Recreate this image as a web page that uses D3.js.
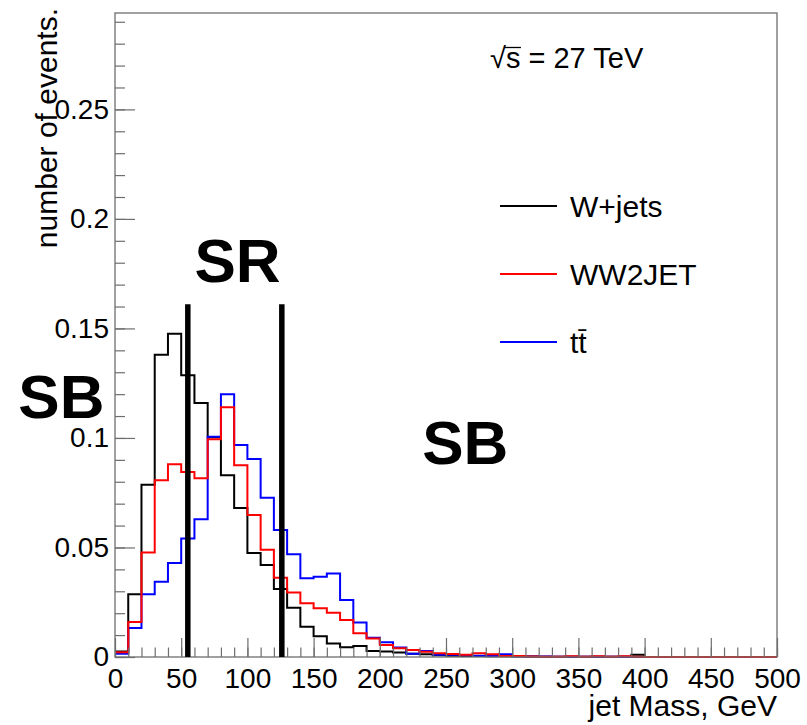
<!DOCTYPE html>
<html>
<head>
<meta charset="utf-8">
<script src="https://cdn.jsdelivr.net/npm/d3@7"></script>
<style>
  html, body { margin: 0; padding: 0; background: #fff; }
  svg { display: block; font-family: "Liberation Sans", Arial, Helvetica, sans-serif; }
</style>
</head>
<body>
<svg id="chart" width="807" height="725"></svg>
<script>
// ---- data (10 GeV bins, 0..500 GeV) ----
const binEdgesStart = 0;
const binWidth = 10;
const wjets = [0.0025,0.0287,0.0786,0.138,0.1476,0.1286,0.116,0.1003,0.083,0.068,
               0.0475,0.042,0.031,0.0225,0.0138,0.0095,0.0062,0.0045,0.005,0.0027,
               0.0025,0.002,0.0015,0.0012,0.0008,0.0006,0.0004,0.0004,0.0003,0.0003,
               0.0002,0.0002,0.0001,0.0001,0.0001,0.0001,0.0001,0.0001,0.0001,0.001,
               0,0,0,0,0,0,0,0,0,0];
const ww2jet = [0.0022,0.016,0.0477,0.0807,0.088,0.0845,0.0816,0.0994,0.114,0.0875,
                0.0648,0.049,0.0362,0.0295,0.0245,0.0222,0.0202,0.0169,0.0108,0.0085,
                0.0055,0.004,0.0032,0.0024,0.0017,0.0014,0.001,0.0017,0.0012,0.0005,
                0.0004,0.0002,0.0001,0.0001,0.0003,0.0001,0.0003,0.0001,0.0003,0.0001,
                0,0,0,0,0,0,0,0,0,0];
const ttbar = [0.0015,0.0132,0.0286,0.0343,0.0429,0.0541,0.0629,0.1005,0.12,0.0968,
               0.0904,0.0727,0.058,0.0469,0.0359,0.0366,0.0381,0.026,0.0158,0.0088,
               0.0067,0.0043,0.0015,0.0027,0.001,0.001,0.0008,0.0006,0.0004,0.0013,
               0.0003,0.0002,0.0002,0.0001,0.0001,0.0001,0.0001,0.0001,0.0001,0,
               0,0,0,0,0,0,0,0,0,0];
const seriesNames = ["W+jets", "WW2JET", "tt̄"];
const seriesColors = ["#000000", "#ff0000", "#0000ff"];
const xMajorTicks = [0,50,100,150,200,250,300,350,400,450,500];
const yMajorTicks = [0,0.05,0.1,0.15,0.2,0.25];
const yTickLabels = ["0","0.05","0.1","0.15","0.2","0.25"];
const cutValues = [55, 126];   // SR boundaries, GeV
const cutTop = 0.161;
const regionLabels = [
  {text: "SB", x: -73, y: 0.109},
  {text: "SR", x: 60,  y: 0.171},
  {text: "SB", x: 232, y: 0.088}
];

// ---- layout ----
const svg = d3.select("#chart");
const L = 115, R = 777, T = 13, B = 657;
const x = d3.scaleLinear().domain([0, 500]).range([L, R]);
const y = d3.scaleLinear().domain([0, 0.294]).range([B, T]);
const axisColor = "#6e6e6e";

// histograms
function stepPoints(vals) {
  const pts = vals.map((v, i) => [binEdgesStart + i * binWidth, v]);
  pts.push([binEdgesStart + vals.length * binWidth, vals[vals.length - 1]]);
  return pts;
}
const line = d3.line().x(d => x(d[0])).y(d => y(d[1])).curve(d3.curveStepAfter);
const drawOrder = [[wjets, 0], [ttbar, 2], [ww2jet, 1]];
drawOrder.forEach(([vals, ci]) => {
  svg.append("path")
    .attr("d", line(stepPoints(vals)))
    .attr("fill", "none")
    .attr("stroke", seriesColors[ci])
    .attr("stroke-width", 2);
});

// axes (ticks pointing inward)
const gx = svg.append("g").attr("transform", `translate(0,${B})`);
gx.call(d3.axisBottom(x).tickValues(d3.range(0, 501, 10)).tickSize(-9.5).tickFormat(""));
const gx2 = svg.append("g").attr("transform", `translate(0,${B})`);
gx2.call(d3.axisBottom(x).tickValues(xMajorTicks).tickSize(-19).tickPadding(11).tickFormat(d3.format("d")));
const gy = svg.append("g").attr("transform", `translate(${L},0)`);
gy.call(d3.axisLeft(y).tickValues(d3.range(0, 0.2905, 0.01)).tickSize(-10).tickFormat(""));
const gy2 = svg.append("g").attr("transform", `translate(${L},0)`);
gy2.call(d3.axisLeft(y).tickValues(yMajorTicks).tickSize(-20).tickPadding(6)
  .tickFormat((d, i) => yTickLabels[i]));
[gx, gx2, gy, gy2].forEach(g => {
  g.select(".domain").remove();
  g.selectAll(".tick line").attr("stroke", axisColor).attr("stroke-width", 1.2);
  g.selectAll(".tick text").attr("fill", "#000").attr("font-size", 28)
    .attr("font-family", "Liberation Sans, Arial, sans-serif");
});

// frame
svg.append("rect").attr("x", L).attr("y", T).attr("width", R - L).attr("height", B - T)
  .attr("fill", "none").attr("stroke", axisColor).attr("stroke-width", 1.3);

// SR boundary lines
cutValues.forEach(c => {
  svg.append("line").attr("x1", x(c)).attr("x2", x(c)).attr("y1", y(cutTop)).attr("y2", y(0))
    .attr("stroke", "#000").attr("stroke-width", 5.5);
});

// region labels
regionLabels.forEach(r => {
  svg.append("text").attr("x", x(r.x)).attr("y", y(r.y))
    .attr("font-size", 62).attr("font-weight", "bold").attr("fill", "#000").text(r.text);
});

// axis titles
svg.append("text").attr("x", R).attr("y", 716).attr("text-anchor", "end")
  .attr("font-size", 30).text("jet Mass, GeV");
svg.append("text").attr("transform", "translate(57,8) rotate(-90)").attr("text-anchor", "end")
  .attr("font-size", 30).text("number of events.");

// energy label with radical bar over s
const eTxt = svg.append("text").attr("x", 490).attr("y", 68).attr("font-size", 29).text("√s = 27 TeV");
const en = eTxt.node();
const l0 = en.getSubStringLength(0, 1), l1 = en.getSubStringLength(1, 1);
svg.append("line").attr("x1", 490 + l0 - 1.5).attr("x2", 490 + l0 + l1 + 0.5)
  .attr("y1", 47.5).attr("y2", 47.5).attr("stroke", "#000").attr("stroke-width", 1.3);

// legend
const legY = [206, 274, 342];
seriesNames.forEach((n, i) => {
  svg.append("line").attr("x1", 500).attr("x2", 557).attr("y1", legY[i]).attr("y2", legY[i])
    .attr("stroke", seriesColors[i]).attr("stroke-width", 2);
  svg.append("text").attr("x", 570).attr("y", legY[i] + 10.5).attr("font-size", 30).text(n);
});
</script>
</body>
</html>
